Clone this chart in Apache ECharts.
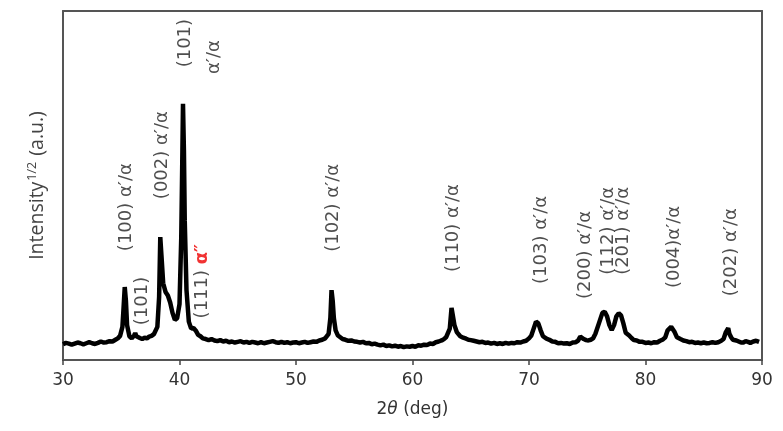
<!DOCTYPE html>
<html>
<head>
<meta charset="utf-8">
<script src="https://cdn.jsdelivr.net/npm/echarts@6/dist/echarts.min.js"></script>
<style>html,body{margin:0;padding:0;background:#fff}#c{width:783px;height:431px}</style>
</head>
<body>
<div id="c"></div>
<script>
// 2theta (deg) and sqrt-intensity (a.u.)
var twoTheta = [30.0,30.25,30.5,30.75,31.0,31.25,31.5,31.75,32.0,32.25,32.5,32.75,33.0,33.25,33.5,33.75,34.0,34.25,34.5,34.7,34.9,35.1,35.2,35.3,35.4,35.5,35.7,35.9,36.1,36.2,36.3,36.6,36.8,37.0,37.2,37.4,37.6,37.8,38.1,38.25,38.35,38.45,38.6,38.8,39.0,39.2,39.4,39.6,39.8,40.0,40.15,40.25,40.3,40.38,40.45,40.6,40.8,41.0,41.2,41.4,41.6,41.8,42.0,42.25,42.5,42.75,43.0,43.25,43.5,43.75,44.0,44.25,44.5,44.75,45.0,45.25,45.5,45.75,46.0,46.25,46.5,46.75,47.0,47.25,47.5,47.75,48.0,48.25,48.5,48.75,49.0,49.25,49.5,49.75,50.0,50.25,50.5,50.75,51.0,51.25,51.5,51.75,52.0,52.25,52.5,52.8,52.95,53.05,53.15,53.25,53.4,53.6,53.8,54.0,54.25,54.5,54.75,55.0,55.25,55.5,55.75,56.0,56.25,56.5,56.75,57.0,57.25,57.5,57.75,58.0,58.25,58.5,58.75,59.0,59.25,59.5,59.75,60.0,60.25,60.5,60.75,61.0,61.25,61.5,61.75,62.0,62.25,62.5,62.7,62.9,63.2,63.35,63.45,63.6,63.8,64.1,64.35,64.6,64.8,65.0,65.25,65.5,65.75,66.0,66.25,66.5,66.75,67.0,67.25,67.5,67.75,68.0,68.25,68.5,68.75,69.0,69.25,69.5,69.75,70.0,70.2,70.4,70.6,70.8,71.0,71.2,71.5,71.75,72.0,72.25,72.5,72.75,73.0,73.25,73.5,73.75,74.0,74.2,74.4,74.7,74.9,75.1,75.3,75.5,75.7,76.0,76.3,76.5,76.7,76.9,77.1,77.3,77.5,77.7,77.9,78.1,78.3,78.6,78.8,79.0,79.25,79.5,79.75,80.0,80.25,80.5,80.75,81.0,81.25,81.5,81.7,81.9,82.2,82.35,82.5,82.7,83.0,83.25,83.5,83.75,84.0,84.25,84.5,84.75,85.0,85.25,85.5,85.75,86.0,86.25,86.5,86.7,86.9,87.1,87.2,87.35,87.5,87.8,88.0,88.2,88.4,88.6,88.8,89.0,89.25,89.5,89.75,90.0];
var intensity = [4.5,4.9,4.7,4.4,4.7,5.0,4.8,4.5,4.8,5.1,4.8,4.6,4.9,5.3,5.0,5.1,5.4,5.3,5.8,6.2,6.9,9.5,15,20.9,17,10,6.8,6.2,7.0,7.7,6.8,6.3,6.0,6.4,6.2,6.7,6.9,7.4,9.5,18,35.2,30,22,19.5,18.5,16.5,13.5,11.5,12,16,35,60,73.4,60,40,20,11,9,9.2,8.4,7.2,6.8,6.2,6.0,5.7,6.0,5.6,5.4,5.7,5.3,5.5,5.1,5.3,5.0,5.2,5.4,5.0,5.2,4.9,5.2,5.0,4.8,5.1,4.8,5.0,5.2,5.4,5.1,4.9,5.2,4.9,5.1,4.8,5.0,5.1,4.8,5.0,5.2,4.9,5.1,5.3,5.2,5.6,5.8,6.2,7.5,12,20,17,12,8.5,7,6.5,6,5.8,5.5,5.6,5.3,5.2,5.0,5.2,4.8,4.9,4.5,4.7,4.4,4.2,4.4,4.0,4.2,3.9,4.1,3.8,4.0,3.7,3.9,3.8,4.0,3.8,4.2,4.1,4.4,4.3,4.7,4.6,5.1,5.3,5.6,6.0,6.6,9,14.9,13,10,8,6.8,6.4,6.1,5.8,5.7,5.5,5.3,5.1,5.2,4.9,5.0,4.7,4.9,4.6,4.8,4.6,4.9,4.7,4.9,4.8,5.1,5.0,5.3,5.5,6.2,7,9,11,10.5,8.5,6.8,6.1,5.8,5.3,5.2,4.8,4.9,4.7,4.8,4.6,5.0,5.1,5.5,6.7,6.0,5.7,5.6,5.8,6.2,7.5,10.5,13.5,13.8,12.5,10,8.6,10,12.5,13.4,12.8,10.5,7.8,7.0,6.3,5.7,5.6,5.2,5.2,4.9,5.0,4.8,5.1,5.0,5.5,5.9,6.5,8.5,9.5,9.2,8,6.5,6.0,5.6,5.4,5.1,5.2,4.9,5.0,4.8,5.0,4.8,4.9,5.1,4.9,5.1,5.5,6,8,9.1,7.5,6.5,5.8,5.6,5.3,5.0,5.0,5.4,5.2,4.9,5.3,5.5,5.2];

// peak annotations
var peakLabelText = ['(100) α′/α','(101)','(002) α′/α','(101)','α′/α','(111) {r|α″}','(102) α′/α','(110) α′/α','(103) α′/α','(200) α′/α','(112) α′/α','(201) α′/α','(004)α′/α','(202) α′/α'];
var peakLabelX = [35.4,36.8,38.5,40.5,43.0,42.0,53.2,63.5,71.1,74.8,76.8,78.1,82.5,87.4];
var peakLabelY = [43.8,16.9,58.7,90.8,86.8,22.6,43.6,37.8,34.4,30.1,37.0,37.0,32.4,30.9];

var xTicks = [30,40,50,60,70,80,90];

var lineData = twoTheta.map(function(x,i){return [x,intensity[i]];});
var labelData = peakLabelX.map(function(x,i){return [x,peakLabelY[i],peakLabelText[i]];});

var chart = echarts.init(document.getElementById('c'));
chart.setOption({
  animation:false,
  backgroundColor:'#fff',
  grid:{left:63,right:21,top:11,bottom:71},
  xAxis:[{
    type:'value',min:xTicks[0],max:xTicks[xTicks.length-1],interval:10,
    axisLine:{show:true,lineStyle:{color:'#555',width:2}},
    axisTick:{show:true,length:5,inside:false,lineStyle:{color:'#444',width:1.5}},
    axisLabel:{color:'#333',fontSize:17,fontFamily:'DejaVu Sans',margin:12},
    splitLine:{show:false},
    name:'2{i|θ} (deg)',nameLocation:'middle',nameGap:41,
    nameTextStyle:{color:'#333',fontSize:17,fontFamily:'DejaVu Sans',rich:{i:{fontStyle:'italic',fontSize:17,fontFamily:'DejaVu Sans',color:'#333'}}}
  },{
    type:'value',position:'top',min:30,max:90,
    axisLine:{show:true,onZero:false,lineStyle:{color:'#555',width:2}},
    axisTick:{show:false},axisLabel:{show:false},splitLine:{show:false}
  }],
  yAxis:[{
    type:'value',min:0,max:100,
    axisLine:{show:true,onZero:false,lineStyle:{color:'#555',width:2}},
    axisTick:{show:false},axisLabel:{show:false},splitLine:{show:false},
    name:'{a|Intensity}{s|1/2}{a| (a.u.)}',nameLocation:'middle',nameGap:15,
    nameTextStyle:{color:'#444',rich:{
      a:{fontSize:19.5,fontFamily:'Open Sans',color:'#444'},
      s:{fontSize:12.5,fontFamily:'Open Sans',color:'#444',verticalAlign:'top',padding:[0,1,9,1]}
    }}
  },{
    type:'value',position:'right',min:0,max:100,
    axisLine:{show:true,onZero:false,lineStyle:{color:'#555',width:2}},
    axisTick:{show:false},axisLabel:{show:false},splitLine:{show:false}
  }],
  series:[{
    type:'line',data:lineData,showSymbol:false,symbol:'none',
    lineStyle:{color:'#000',width:4.5},z:3
  },{
    type:'scatter',data:labelData,symbolSize:0,z:4,
    label:{show:true,position:'inside',rotate:90,align:'center',verticalAlign:'middle',
      fontSize:18,fontFamily:'DejaVu Sans',color:'#222',
      formatter:function(p){return p.data[2];},
      rich:{r:{color:'#e00',fontSize:18,fontFamily:'DejaVu Sans',fontWeight:'bold'}}
    }
  }]
});
</script>
</body>
</html>
